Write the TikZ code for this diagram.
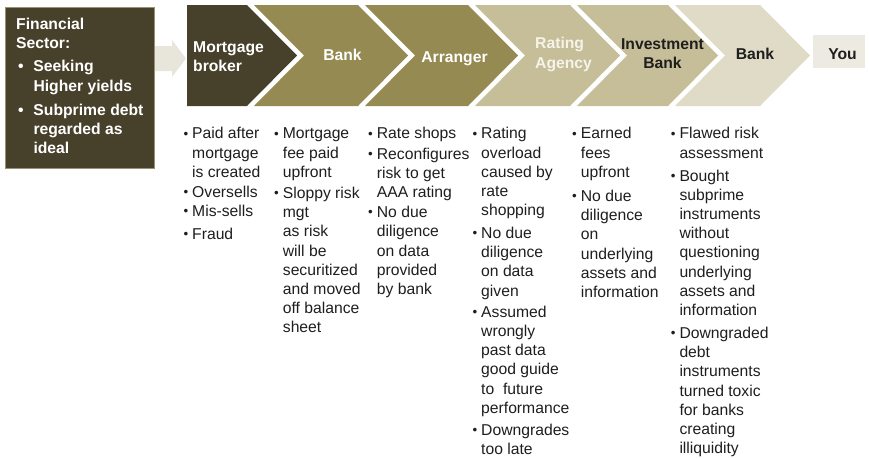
\documentclass[tikz,border=0pt]{standalone}
\usepackage{fontspec}
\setmainfont{Liberation Sans}
\definecolor{olivedark}{HTML}{47402A}
\definecolor{olivemid}{HTML}{948A52}
\definecolor{olivelight}{HTML}{C6BE98}
\definecolor{olivepale}{HTML}{DFDBC6}
\definecolor{youfill}{HTML}{EDEBE1}
\definecolor{arrowfill}{HTML}{E8E5DA}
\definecolor{boxrule}{HTML}{9A9270}
\definecolor{darktext}{HTML}{1E1E1E}
\definecolor{ratingtext}{HTML}{F6F3EA}
% small bullet hung into the left margin of a line
\newcommand\itemdot[1][4pt]{\llap{\raisebox{0.9pt}{\scalebox{0.85}{\textbullet}}\hspace{#1}}}
% full-size bullet for the sector box
\newcommand\boxdot{\llap{\textbullet\hspace{10pt}}}
% fixed height for the first line, so a block can be placed by its first baseline
\newcommand\firstline{\rule{0pt}{12pt}}
\begin{document}
\begin{tikzpicture}[x=1pt,y=-1pt,
  txt/.style={font=\fontsize{15.7}{19.2}\selectfont, inner sep=0pt},
  hd/.style={txt, font=\fontsize{15.7}{19.2}\selectfont\bfseries, anchor=base, align=center},
  block/.style={anchor=north west, align=left, yshift=12pt},
  cblock/.style={anchor=north, align=center, yshift=12pt},
  notes/.style={txt, text=darktext, block},
  sectorbox/.style={fill=olivedark, draw=boxrule, line width=0.8pt, inner sep=0pt},
  youbox/.style={fill=youfill, inner sep=0pt}]
\useasboundingbox (0,0) rectangle (869,458);

% sector box and the block arrow leading into the chain
\node[sectorbox, anchor=north west, minimum width=149pt, minimum height=161pt] (sector) at (5,7) {};
\fill[arrowfill] (155,46) -- (172,46) -- (172,40) -- (186,58.5) -- (172,77) -- (172,71) -- (155,71) -- cycle;
\node[hd, text=white, block] (sectortitle) at (16,29.3) {\firstline Financial\\Sector:};
\node[hd, text=white, block] (sectoritems) at (33.3,71.7)
  {\firstline\boxdot Seeking\\Higher yields\\[4.8pt]\boxdot Subprime debt\\regarded as\\ideal};

% chevron chain
\fill[olivedark] (187,5) -- (247,5) -- (297,55.5) -- (247,106) -- (187,106) -- cycle;
\fill[olivemid] (254,5) -- (358,5) -- (408,55.5) -- (358,106) -- (254,106) -- (304,55.5) -- cycle;
\fill[olivemid] (365,5) -- (468,5) -- (518,55.5) -- (468,106) -- (365,106) -- (415,55.5) -- cycle;
\fill[olivelight] (475,5) -- (570,5) -- (620,55.5) -- (570,106) -- (475,106) -- (525,55.5) -- cycle;
\fill[olivelight] (577,5) -- (668,5) -- (718,55.5) -- (668,106) -- (577,106) -- (627,55.5) -- cycle;
\fill[olivepale] (675,5) -- (760,5) -- (810,55.5) -- (760,106) -- (675,106) -- (725,55.5) -- cycle;
\node[youbox, minimum width=52pt, minimum height=33pt] (youbox) at (839,51.5) {};

% chevron labels
\node[hd, text=white, block] (broker) at (193,52.3) {\firstline Mortgage\\broker};
\node[hd, text=white] (bankA) at (342.5,60) {Bank};
\node[hd, text=white] (arranger) at (454.5,62.5) {Arranger};
\node[hd, text=ratingtext, block] (rating) at (535,48.7) {\firstline Rating\\Agency};
\node[hd, text=darktext, cblock] (invest) at (662.5,49.3) {\firstline Investment\\Bank};
\node[hd, text=darktext] (bankB) at (755,59.5) {Bank};
\node[hd, text=darktext] (you) at (842.5,59.5) {You};

% notes under each stage
\node[notes] (notebroker) at (192,138.7)
  {\firstline\itemdot Paid after\\mortgage\\is created\\[1pt]\itemdot Oversells\\\itemdot Mis-sells\\[3.8pt]\itemdot Fraud};
\node[notes] (notebankA) at (282.7,138.7)
  {\firstline\itemdot Mortgage\\fee paid\\upfront\\[2pt]\itemdot Sloppy risk\\mgt\\as risk\\will be\\securitized\\and moved\\off balance\\sheet};
\node[notes] (notearranger) at (376.7,138.7)
  {\firstline\itemdot Rate shops\\[1pt]\itemdot Reconfigures\\risk to get\\AAA rating\\[1pt]\itemdot No due\\diligence\\on data\\provided\\by bank};
\node[notes] (noterating) at (481,138.7)
  {\firstline\itemdot Rating\\overload\\caused by\\rate\\shopping\\[3.5pt]\itemdot No due\\diligence\\on data\\given\\[2pt]\itemdot Assumed\\wrongly\\past data\\good guide\\to\ \ future\\performance\\[3pt]\itemdot Downgrades\\too late};
\node[notes] (noteinvest) at (580.7,138.7)
  {\firstline\itemdot Earned\\fees\\upfront\\[5pt]\itemdot No due\\diligence\\on\\underlying\\assets and\\information};
\node[notes] (notebankB) at (679.3,138.7)
  {\firstline\itemdot Flawed risk\\assessment\\[3.8pt]\itemdot Bought\\subprime\\instruments\\without\\questioning\\underlying\\assets and\\information\\[3.8pt]\itemdot Downgraded\\debt\\instruments\\turned toxic\\for banks\\creating\\illiquidity};
\end{tikzpicture}
\end{document}
